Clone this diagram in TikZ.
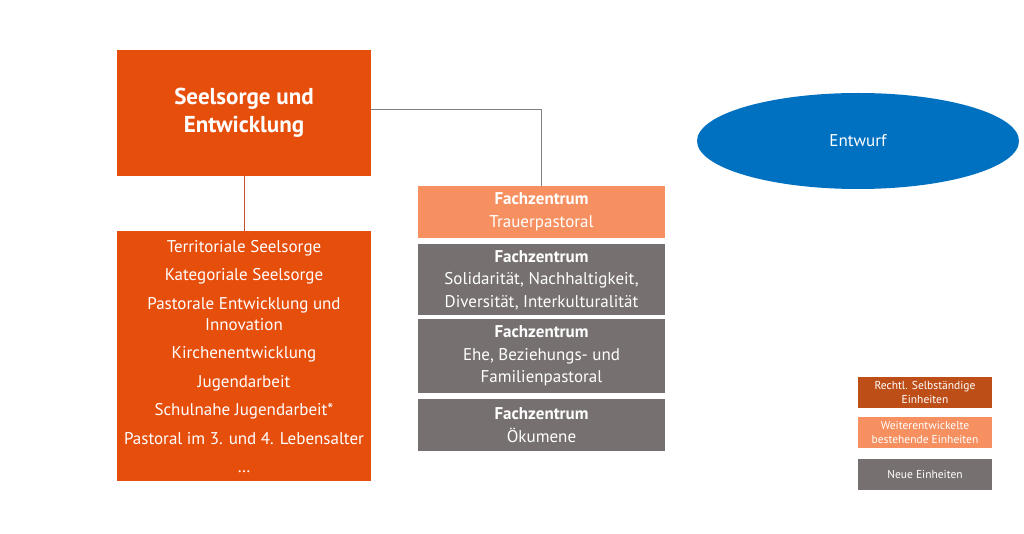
\documentclass[tikz,border=0pt]{standalone}
\usepackage{fontspec}
\setmainfont{PT Sans}
\usetikzlibrary{positioning,shapes.geometric}

\definecolor{seelorange}{RGB}{230,78,12}
\definecolor{darkorange}{RGB}{190,78,24}
\definecolor{lightorange}{RGB}{247,144,96}
\definecolor{unitgray}{RGB}{118,113,112}
\definecolor{draftblue}{RGB}{0,112,192}
\definecolor{linegray}{RGB}{128,128,128}
\definecolor{lineorange}{RGB}{196,80,40}

\begin{document}
\begin{tikzpicture}[x=1pt, y=-1pt, node distance=6pt,
  unit/.style = {fill=#1, text=white, inner sep=0pt, align=center},
  mainbox/.style = {unit=seelorange, minimum width=254pt, minimum height=126pt,
    font=\fontsize{23}{28}\selectfont\bfseries},
  listbox/.style = {unit=seelorange, minimum width=254pt, minimum height=250pt,
    font=\fontsize{17}{21}\selectfont},
  fzbox/.style = {unit=#1, minimum width=247pt, font=\fontsize{17}{22.5}\selectfont},
  keybox/.style = {unit=#1, minimum width=134pt, minimum height=31pt,
    font=\fontsize{11.5}{14}\selectfont}]
\fill[white] (0,0) rectangle (1024,534);
\useasboundingbox (0,0) rectangle (1024,534);

\node[mainbox] (seelsorge) at (244,113) {Seelsorge und\\Entwicklung};
\node[listbox, below=55pt of seelsorge] (bereiche) {Territoriale Seelsorge\\[7.5pt]
  Kategoriale Seelsorge\\[7.5pt]
  Pastorale Entwicklung und\\Innovation\\[7.5pt]
  Kirchenentwicklung\\[7.5pt]
  Jugendarbeit\\[7.5pt]
  Schulnahe Jugendarbeit*\\[7.5pt]
  Pastoral im 3. und 4. Lebensalter\\[7.5pt]
  \dots};

\node[fzbox=lightorange, minimum height=52pt] (trauer) at (541.5,212)
  {\textbf{Fachzentrum}\\Trauerpastoral};
\node[fzbox=unitgray, minimum height=71pt, below=of trauer] (solidaritaet)
  {\textbf{Fachzentrum}\\Solidarität, Nachhaltigkeit,\\Diversität, Interkulturalität};
\node[fzbox=unitgray, minimum height=74pt, below=3pt of solidaritaet] (ehe)
  {\textbf{Fachzentrum}\\Ehe, Beziehungs- und\\Familienpastoral};
\node[fzbox=unitgray, minimum height=52pt, below=of ehe] (oekumene)
  {\textbf{Fachzentrum}\\Ökumene};

\node[ellipse, fill=draftblue, text=white, inner sep=0pt, minimum width=322pt,
  minimum height=96pt, font=\fontsize{17}{20}\selectfont] (entwurf) at (858,141) {Entwurf};

% Legende
\node[keybox=darkorange] (selbst) at (925,392.5) {Rechtl. Selbständige\\Einheiten};
\node[keybox=lightorange, below=9pt of selbst] (weiter) {Weiterentwickelte\\bestehende Einheiten};
\node[keybox=unitgray, below=10pt of weiter] (neu) {Neue Einheiten};

\draw[lineorange, line width=1pt] (seelsorge) -- (bereiche);
\draw[linegray, line width=1pt] (seelsorge.east |- 0,110) -| (trauer.north);
\end{tikzpicture}
\end{document}
